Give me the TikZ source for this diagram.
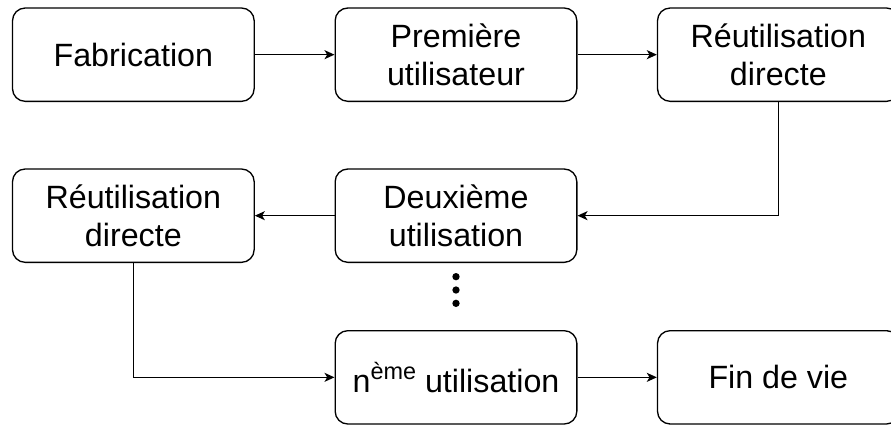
\documentclass[tikz,border=0pt]{standalone}
\usepackage{fontspec}
\setmainfont{Liberation Sans}
\usepackage{tikz}
\usetikzlibrary{arrows.meta, positioning}

\begin{document}
\begin{tikzpicture}[
    stage/.style={draw, line width=0.04cm, rounded corners=0.38cm, minimum width=7.25cm, minimum height=2.8cm, align=center, font=\fontsize{27.5pt}{32pt}\selectfont},
    flow/.style={-{Stealth[length=0.3cm, width=0.27cm, inset=0.08cm]}, line width=0.04cm}
  ]
  \useasboundingbox (0, 0) rectangle (26.73, -12.75);
  \clip (0, 0) rectangle (26.73, -12.75);

  % first row
  \node[stage] (fab) at (4.0, -1.64) {Fabrication};
  \node[stage] (prem) at (13.68, -1.64) {Première\\utilisateur};
  \node[stage] (reuse1) at (23.35, -1.64) {Réutilisation\\directe};

  % second row
  \node[stage] (deux) at (13.68, -6.47) {Deuxième\\utilisation};
  \node[stage] (reuse2) at (4.0, -6.47) {Réutilisation\\directe};

  % last row
  \node[stage] (nth) at (13.68, -11.32) {n\raisebox{0.42em}{\fontsize{20pt}{20pt}\selectfont ème} utilisation};
  \node[stage] (fin) at (23.35, -11.32) {Fin de vie};

  % links
  \draw[flow] (fab) -- (prem);
  \draw[flow] (prem) -- (reuse1);
  \draw[flow] (reuse1.south) |- (deux.east);
  \draw[flow] (deux) -- (reuse2);
  \draw[flow] (reuse2.south) |- (nth.west);
  \draw[flow] (nth) -- (fin);

  % dots
  \foreach \y in {-8.3, -8.7, -9.1}
    \fill (13.68, \y) circle (0.11);
\end{tikzpicture}
\end{document}
